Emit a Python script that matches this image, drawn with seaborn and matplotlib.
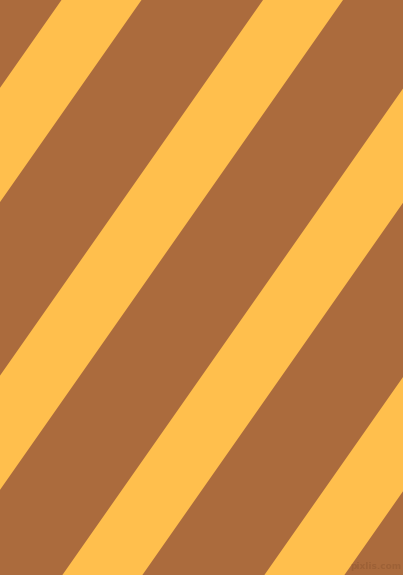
import numpy as np
import matplotlib
matplotlib.use("Agg")
import matplotlib.pyplot as plt
import seaborn as sns

# Pattern data
width_px = 403
height_px = 575
stripe_offsets = [61.5, 263.0, 465.0, 667.0, -140.0]  # x of left edge at top row
stripe_width = 80.0          # horizontal width of each yellow stripe
angle_deg = 55.0
background_color = "#AB6B3D"
stripe_color = "#FFBF4D"
watermark = "pixlis.com"

sns.set_theme(style="white")

fig = plt.figure(figsize=(width_px / 100, height_px / 100), dpi=100)
ax = fig.add_axes([0, 0, 1, 1])
ax.set_facecolor(background_color)
fig.patch.set_facecolor(background_color)

shift = height_px / np.tan(np.radians(angle_deg))
for a in stripe_offsets:
    xs = [a, a + stripe_width, a + stripe_width - shift, a - shift]
    ys = [0, 0, height_px, height_px]
    ax.fill(xs, ys, color=stripe_color, linewidth=0, antialiased=True)

ax.text(401, 571, watermark, ha="right", va="bottom", fontsize=6.5,
        color="#9C6036", alpha=0.9, family="DejaVu Sans", fontweight="bold")

ax.set_xlim(0, width_px)
ax.set_ylim(height_px, 0)
ax.axis("off")

fig.savefig("out.png", dpi=100, facecolor=background_color)
